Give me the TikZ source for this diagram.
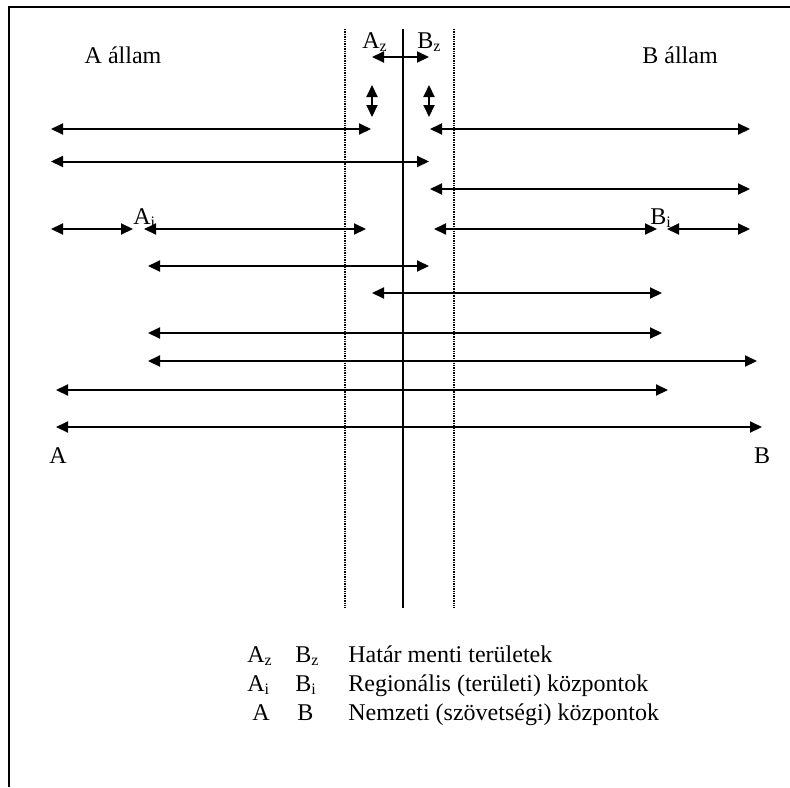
\documentclass[tikz,border=0pt]{standalone}
\usepackage{fontspec}
\setmainfont{Liberation Serif}
\usetikzlibrary{arrows.meta}

\tikzset{
  nyil/.style={{Triangle[length=6pt,width=5.5pt]}-{Triangle[length=6pt,width=5.5pt]}, line width=1pt},
  hatarvonal/.style={line width=1.2pt, dash pattern=on 0.7pt off 0.5pt},
  felirat/.style={font=\fontsize{12}{14}\selectfont, inner sep=0pt},
}

\begin{document}
\begin{tikzpicture}[x=0.5pt,y=-0.5pt]
\useasboundingbox (0,0) rectangle (790,787);

% Keret
\draw[line width=1.4pt] (9,787) -- (9,7) -- (790,7);

% Határ és határ menti sáv
\coordinate (hf) at (403,29);
\coordinate (ha) at (403,608);
\draw[line width=1.2pt] (hf) -- (ha);
\foreach \x/\nev in {345/bal,454/jobb} {
  \coordinate (\nev f) at (\x,29);
  \coordinate (\nev a) at (\x,608);
  \draw[hatarvonal] (\nev f) -- (\nev a);
}

% Feliratok
\node[felirat,anchor=base] (aallam) at (123,63) {A állam};
\node[felirat,anchor=base] (ballam) at (680,63) {B állam};
\node[felirat,anchor=base west] (az) at (362,48) {A\textsubscript{z}};
\node[felirat,anchor=base west] (bz) at (417,48) {B\textsubscript{z}};
\node[felirat,anchor=base west] (ai) at (133,224) {A\textsubscript{i}};
\node[felirat,anchor=base west] (bi) at (650,224) {B\textsubscript{i}};
\node[felirat,anchor=base] (a) at (58,463) {A};
\node[felirat,anchor=base] (b) at (762,463) {B};

% Határ menti kapcsolatok
\coordinate (zk1) at (372,57);
\coordinate (zk2) at (429,57);
\draw[nyil] (zk1) -- (zk2);
\foreach \x/\nev in {372/za,429/zb} {
  \coordinate (\nev f) at (\x,85);
  \coordinate (\nev a) at (\x,117);
  \draw[nyil] (\nev f) -- (\nev a);
}

% Kapcsolatok
\foreach \n/\y/\xa/\xb in {1/129/51/371, 2/129/430/750, 3/161.5/51/429,
    4/189/430/750, 5/229/51/133, 6/229/144/366, 7/229/434/657,
    8/229/667/750, 9/266/148/429, 10/293/372/662, 11/333/148/662,
    12/361/148/757, 13/390/56/668, 14/427/56/762} {
  \coordinate (k\n a) at (\xa,\y);
  \coordinate (k\n b) at (\xb,\y);
  \draw[nyil] (k\n a) -- (k\n b);
}

% Jelmagyarázat
\node[felirat,anchor=base west] (jaz) at (247,662) {A\textsubscript{z}};
\node[felirat,anchor=base west] (jbz) at (295,662) {B\textsubscript{z}};
\node[felirat,anchor=base west] (jt1) at (348,662) {Határ menti területek};
\node[felirat,anchor=base west] (jai) at (247,691) {A\textsubscript{i}};
\node[felirat,anchor=base west] (jbi) at (295,691) {B\textsubscript{i}};
\node[felirat,anchor=base west] (jt2) at (348,691) {Regionális (területi) központok};
\node[felirat,anchor=base west] (ja) at (252,720) {A};
\node[felirat,anchor=base west] (jb) at (297,720) {B};
\node[felirat,anchor=base west] (jt3) at (348,720) {Nemzeti (szövetségi) központok};
\end{tikzpicture}
\end{document}
